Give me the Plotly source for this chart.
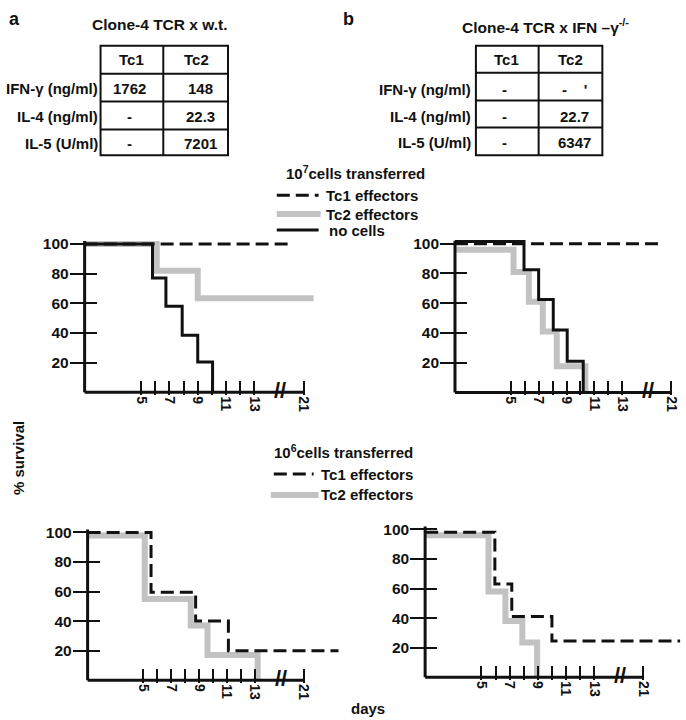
import plotly.graph_objects as go

W, H = 686, 720

# cytokine tables
table_cols = ["Tc1", "Tc2"]
table_rows = ["IFN-γ (ng/ml)", "IL-4 (ng/ml)", "IL-5 (U/ml)"]
wt_tc1 = ["1762", "-", "-"]
wt_tc2 = ["148", "22.3", "7201"]
ko_tc1 = ["-", "-", "-"]
ko_tc2 = ["-    '", "22.7", "6347"]

# axis ticks (day 21 sits just after the axis break, at 16.5)
day_ticks = [5, 7, 9, 11, 13, 16.5]
day_labels = ["5", "7", "9", "11", "13", "21"]
day_minor = [6, 8, 10, 12]
pct_ticks = [20, 40, 60, 80, 100]

# a) wild type, 10^7 cells
a7_tc1_x = [1, 15.4]
a7_tc1_y = [100, 100]
a7_tc2_x = [1, 6.1, 9.0, 17.2]
a7_tc2_y = [100, 82, 63.5, 63.5]
a7_none_x = [1, 5.8, 6.75, 7.9, 9.0, 10.05]
a7_none_y = [100, 77, 58, 38.5, 20.5, 0]

# b) IFN-g -/-, 10^7 cells
b7_tc1_x = [1, 15.7]
b7_tc1_y = [100, 100]
b7_tc2_x = [1, 5.2, 6.3, 7.3, 8.3, 10.35]
b7_tc2_y = [96, 81, 61, 41, 17.5, 0]
b7_none_x = [1, 5.95, 7.0, 8.05, 9.05, 10.2]
b7_none_y = [101.5, 82.5, 62.5, 42, 21, 0]

# a) wild type, 10^6 cells
a6_tc1_x = [1, 5.55, 8.75, 11.1, 19.0]
a6_tc1_y = [100, 59.5, 40, 20, 20]
a6_tc2_x = [1, 5.1, 8.4, 9.6, 13.2]
a6_tc2_y = [98, 55, 37, 17, 0]

# b) IFN-g -/-, 10^6 cells
b6_tc1_x = [1, 5.95, 7.15, 10.0, 19.1]
b6_tc1_y = [98, 63, 41, 24.5, 24.5]
b6_tc2_x = [1, 5.5, 6.7, 7.9, 8.95]
b6_tc2_y = [96, 58, 38, 23.5, 0]

BLACK = "#111111"
GRAY = "#c2c2c2"
FONT = "Liberation Sans, Arial, sans-serif"
DASH = "13px,6px"


def px(x):
    return x / W


def py(y):
    return 1 - y / H


# pixel placement of each panel: origin (day 1, 0 %), px per day, px per %
panels = [
    dict(ox=85, oy=391, sx=14.2, sy=1.49, xmax=17.5),
    dict(ox=457, oy=391, sx=14.0, sy=1.493, xmax=16.9),
    dict(ox=88, oy=680, sx=14.0, sy=1.483, xmax=19.3),
    dict(ox=427, oy=677, sx=14.15, sy=1.484, xmax=19.3),
]

series = [
    [(a7_tc2_x, a7_tc2_y, "tc2"), (a7_none_x, a7_none_y, "none"), (a7_tc1_x, a7_tc1_y, "tc1")],
    [(b7_tc2_x, b7_tc2_y, "tc2"), (b7_none_x, b7_none_y, "none"), (b7_tc1_x, b7_tc1_y, "tc1")],
    [(a6_tc2_x, a6_tc2_y, "tc2"), (a6_tc1_x, a6_tc1_y, "tc1")],
    [(b6_tc2_x, b6_tc2_y, "tc2"), (b6_tc1_x, b6_tc1_y, "tc1")],
]

styles = {
    "tc1": dict(color=BLACK, width=3, dash=DASH),
    "tc2": dict(color=GRAY, width=6),
    "none": dict(color=BLACK, width=3),
}

fig = go.Figure()
shapes = []
annotations = []
layout_axes = {}

for i, (p, ser) in enumerate(zip(panels, series), start=1):
    xa = "x" if i == 1 else "x%d" % i
    ya = "y" if i == 1 else "y%d" % i
    xmin = 1 - 15 / p["sx"]
    ymin, ymax = -2, 104
    layout_axes["xaxis" if i == 1 else "xaxis%d" % i] = dict(
        domain=[px(p["ox"] - 15), min(1, px(p["ox"] + (p["xmax"] - 1) * p["sx"]))],
        range=[xmin, p["xmax"]], anchor=ya,
        showgrid=False, zeroline=False, showline=False,
        tickmode="array", tickvals=day_ticks, ticktext=day_labels,
        ticks="inside", ticklen=14, tickwidth=2, tickcolor=BLACK,
        minor=dict(tickmode="array", tickvals=day_minor, ticks="inside",
                   ticklen=14, tickwidth=2, tickcolor=BLACK, showgrid=False),
        tickangle=90, tickfont=dict(family=FONT, size=14, color=BLACK, weight="bold"),
    )
    layout_axes["yaxis" if i == 1 else "yaxis%d" % i] = dict(
        domain=[py(p["oy"] + 2 * p["sy"]), py(p["oy"] - ymax * p["sy"])],
        range=[ymin, ymax], anchor=xa,
        showgrid=False, zeroline=False, showline=False,
        tickmode="array", tickvals=pct_ticks,
        ticks="inside", ticklen=27, tickwidth=2, tickcolor=BLACK,
        tickfont=dict(family=FONT, size=15.5, color=BLACK, weight="bold"),
    )
    for xs, ys, kind in ser:
        st = dict(styles[kind])
        st["shape"] = "hv"
        fig.add_trace(go.Scatter(x=xs, y=ys, mode="lines", line=st,
                                 xaxis=xa, yaxis=ya, showlegend=False, hoverinfo="skip"))
    # axis lines
    shapes.append(dict(type="line", xref=xa, yref=ya, x0=1, x1=16.5, y0=0, y1=0,
                       line=dict(color=BLACK, width=3), layer="above"))
    shapes.append(dict(type="line", xref=xa, yref=ya, x0=1, x1=1, y0=0, y1=102,
                       line=dict(color=BLACK, width=3), layer="above"))
    # axis break
    annotations.append(dict(xref=xa, yref=ya, x=14.85, y=1, text="//", showarrow=False,
                            font=dict(family=FONT, size=22, color=BLACK, weight="bold")))


def text(x, y, s, size=15, xanchor="center", angle=0):
    annotations.append(dict(xref="paper", yref="paper", x=px(x), y=py(y), text=s,
                            showarrow=False, xanchor=xanchor, yanchor="middle", textangle=angle,
                            font=dict(family=FONT, size=size, color=BLACK, weight="bold")))


def table(left, right, top, bottom, coldiv, rowlines, label_right, c1, c2, rows_y, c1x, c2x, head_y):
    shapes.append(dict(type="rect", xref="paper", yref="paper", x0=px(left), x1=px(right),
                       y0=py(bottom), y1=py(top), line=dict(color=BLACK, width=2)))
    shapes.append(dict(type="line", xref="paper", yref="paper", x0=px(coldiv), x1=px(coldiv),
                       y0=py(bottom), y1=py(top), line=dict(color=BLACK, width=2)))
    for r in rowlines:
        shapes.append(dict(type="line", xref="paper", yref="paper", x0=px(left), x1=px(right),
                           y0=py(r), y1=py(r), line=dict(color=BLACK, width=2)))
    text(c1x, head_y, table_cols[0])
    text(c2x, head_y, table_cols[1])
    for lab, v1, v2, yy in zip(table_rows, c1, c2, rows_y):
        text(label_right, yy, lab, xanchor="right")
        text(c1x - 2, yy, v1)
        text(c2x + 4, yy, v2)


text(15, 16, "a", size=18)
text(350, 16, "b", size=18)
text(161, 22, "Clone-4 TCR x w.t.", size=15.5)
text(548, 23, "Clone-4 TCR x IFN –γ<sup>-/-</sup>", size=15.5)

table(101, 229, 43, 153, 164, [71, 99, 127], 100, wt_tc1, wt_tc2, [86, 114, 141], 132, 197, 57)
table(478, 605, 43, 153, 541, [70, 98, 125], 475, ko_tc1, ko_tc2, [87, 114, 140], 509, 573, 57)

# legends
text(285, 170, "10<sup>7</sup>cells transferred", xanchor="left")
legend_top = [("tc1", "Tc1 effectors", 193, 278, 320, 325),
              ("tc2", "Tc2 effectors", 212, 278, 322, 325),
              ("none", "no cells", 228, 278, 320, 328)]
text(273, 450, "10<sup>6</sup>cells transferred", xanchor="left")
legend_bot = [("tc1", "Tc1 effectors", 473, 275, 315, 320),
              ("tc2", "Tc2 effectors", 494, 272, 320, 320)]
for kind, lab, yy, x0, x1, tx in legend_top + legend_bot:
    st = styles[kind]
    shapes.append(dict(type="line", xref="paper", yref="paper", x0=px(x0), x1=px(x1),
                       y0=py(yy), y1=py(yy),
                       line=dict(color=st["color"], width=st["width"], dash=st.get("dash", "solid"))))
    text(tx, yy, lab, xanchor="left")

text(18, 457, "% survival", angle=-90)
text(370, 708, "days")

fig.update_layout(
    width=W, height=H, margin=dict(l=0, r=0, t=0, b=0),
    paper_bgcolor="white", plot_bgcolor="rgba(0,0,0,0)",
    shapes=shapes, annotations=annotations, showlegend=False,
    **layout_axes,
)

# the page's default 8px body margin would push the figure off the window
fig.write_html("out.html", config={"displayModeBar": False},
               post_script="document.body.style.margin='0px';")
